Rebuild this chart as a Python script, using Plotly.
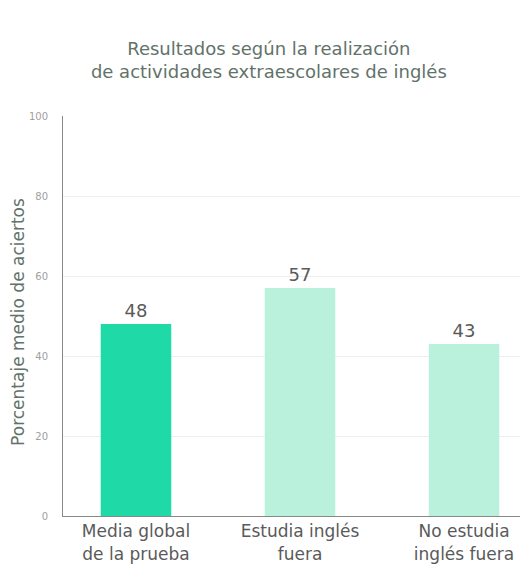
import plotly.graph_objects as go

categories = ["Media global<br>de la prueba", "Estudia inglés<br>fuera", "No estudia<br>inglés fuera"]
values = [48, 57, 43]
colors = ["#1fd9a6", "#b9f1dd", "#b9f1dd"]
y_ticks = [0, 20, 40, 60, 80, 100]

FONT = "DejaVu Sans, sans-serif"

fig = go.Figure()
fig.add_trace(go.Bar(
    x=list(range(len(categories))), y=values,
    marker=dict(color=colors, line=dict(width=0)),
    width=0.43,
    text=[str(v) for v in values], textposition="outside",
    textfont=dict(family=FONT, size=18, color="#5a5a5a"),
    cliponaxis=False,
))

fig.update_layout(
    width=528, height=570,
    margin=dict(l=55, r=8, t=108, b=62),
    paper_bgcolor="white", plot_bgcolor="white",
    showlegend=False,
    font=dict(family=FONT),
    title=dict(
        text="Resultados según la realización<br>de actividades extraescolares de inglés",
        x=0.494, xanchor="center", y=0.918, yanchor="middle",
        font=dict(family=FONT, size=18, color="#62726a"),
    ),
    xaxis=dict(
        range=[-0.445, 2.39],
        tickmode="array", tickvals=list(range(len(categories))), ticktext=categories,
        tickfont=dict(family=FONT, size=17, color="#5a5a5a"),
        showline=True, linecolor="#888888", linewidth=1,
        showgrid=False, zeroline=False, ticks="",
    ),
    yaxis=dict(
        range=[0, 100], tickvals=y_ticks,
        tickfont=dict(family=FONT, size=10, color="#a0a0a0"),
        showline=True, linecolor="#888888", linewidth=1,
        showgrid=True, gridcolor="#eeeeee", zeroline=False,
        ticks="", ticklabelstandoff=12,
    ),
    annotations=[dict(
        text="Porcentaje medio de aciertos", textangle=-90,
        xref="paper", yref="paper", x=-0.097, y=0.485,
        xanchor="center", yanchor="middle", showarrow=False,
        font=dict(family=FONT, size=17, color="#62726a"),
    )],
)

fig.write_html("out.html")
